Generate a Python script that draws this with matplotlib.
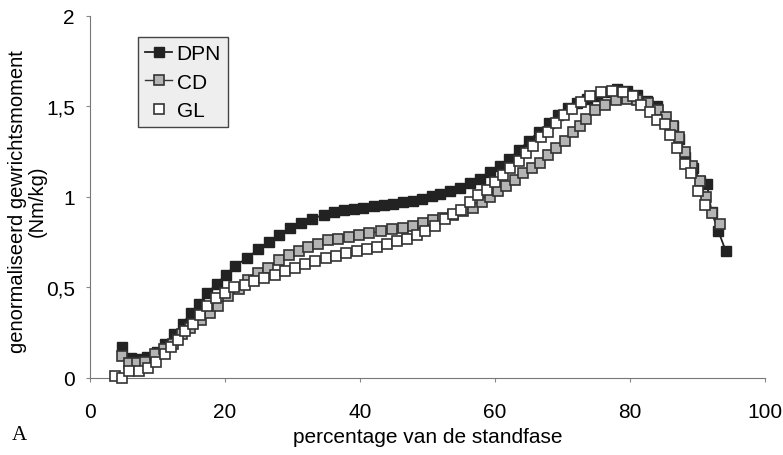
import matplotlib
matplotlib.use("Agg")
import matplotlib.pyplot as plt

plt.rcParams['font.family'] = ['Liberation Sans', 'DejaVu Sans']

# DPN (filled squares)
dpn_x = [4.7, 6.1, 7.3, 8.4, 9.9, 11.1, 12.5, 13.7, 15.0, 16.2, 17.4, 18.8, 20.1, 21.5,
         23.2, 24.9, 26.5, 28.0, 29.6, 31.2, 32.9, 34.6, 36.2, 37.6, 39.1, 40.5, 42.0,
         43.5, 44.9, 46.3, 47.8, 49.2, 50.6, 51.9, 53.3, 54.8, 56.3, 57.8, 59.3, 60.7,
         62.1, 63.6, 65.0, 66.5, 68.0, 69.4, 70.8, 72.2, 73.6, 75.1, 76.6, 78.1, 79.6,
         81.0, 82.5, 84.0, 85.2, 86.4, 87.2, 88.1, 89.4, 90.4, 91.4, 92.1, 93.1, 94.2]
dpn_y = [0.17, 0.11, 0.105, 0.115, 0.146, 0.19, 0.24, 0.30, 0.36, 0.41, 0.47, 0.52, 0.57, 0.62,
         0.66, 0.71, 0.75, 0.79, 0.83, 0.855, 0.88, 0.90, 0.915, 0.926, 0.933, 0.94, 0.95,
         0.955, 0.963, 0.97, 0.98, 0.99, 1.005, 1.017, 1.035, 1.05, 1.075, 1.10, 1.14, 1.17,
         1.21, 1.26, 1.31, 1.36, 1.41, 1.45, 1.49, 1.52, 1.54, 1.56, 1.58, 1.595, 1.585,
         1.565, 1.53, 1.50, 1.43, 1.39, 1.32, 1.22, 1.16, 1.09, 1.07, 0.915, 0.81, 0.70]

# CD (grey squares)
cd_x = [4.7, 5.7, 6.9, 8.1, 9.6, 11.0, 12.3, 13.6, 14.8, 16.4, 17.8, 19.0, 20.5, 22.0,
        23.4, 24.9, 26.4, 28.0, 29.5, 31.0, 32.3, 33.8, 35.3, 36.8, 38.3, 39.9, 41.4,
        43.1, 44.7, 46.3, 47.8, 49.3, 50.8, 52.3, 53.8, 55.3, 56.8, 58.1, 59.3, 60.5,
        61.7, 63.0, 64.2, 65.5, 66.7, 67.9, 69.1, 70.3, 71.6, 72.6, 73.5, 74.8, 76.3,
        77.9, 79.5, 81.1, 82.7, 84.2, 85.3, 86.3, 87.3, 88.1, 89.2, 90.3, 91.2, 92.1, 93.3]
cd_y = [0.12, 0.08, 0.08, 0.09, 0.13, 0.16, 0.19, 0.24, 0.276, 0.32, 0.36, 0.40, 0.45, 0.49,
        0.54, 0.58, 0.61, 0.65, 0.68, 0.70, 0.725, 0.74, 0.76, 0.77, 0.78, 0.79, 0.80,
        0.81, 0.82, 0.83, 0.84, 0.855, 0.87, 0.885, 0.90, 0.92, 0.94, 0.97, 1.00, 1.03,
        1.06, 1.095, 1.13, 1.16, 1.19, 1.23, 1.27, 1.31, 1.36, 1.39, 1.43, 1.48, 1.51,
        1.535, 1.54, 1.535, 1.52, 1.48, 1.44, 1.39, 1.33, 1.25, 1.17, 1.09, 1.00, 0.91, 0.85]

# GL (open squares)
gl_x = [3.7, 4.7, 5.8, 7.3, 8.6, 9.8, 11.1, 12.0, 13.0, 14.1, 15.2, 16.3, 17.4, 18.6,
        20.0, 21.4, 22.9, 24.3, 25.8, 27.4, 28.9, 30.4, 31.9, 33.3, 34.9, 36.4, 37.9,
        39.5, 41.0, 42.5, 44.0, 45.5, 46.9, 48.4, 49.7, 51.1, 52.6, 53.8, 55.0, 56.3,
        57.5, 58.8, 60.0, 61.2, 62.2, 63.5, 64.6, 65.7, 66.8, 67.9, 69.0, 70.2, 71.4,
        72.7, 74.0, 75.7, 77.3, 78.9, 80.5, 81.7, 83.0, 84.0, 85.2, 86.0, 87.0, 88.1,
        89.1, 90.1, 91.1]
gl_y = [0.01, 0.0, 0.04, 0.04, 0.055, 0.09, 0.13, 0.17, 0.21, 0.26, 0.30, 0.35, 0.40, 0.44,
        0.47, 0.50, 0.515, 0.535, 0.55, 0.57, 0.59, 0.61, 0.63, 0.645, 0.66, 0.675, 0.69,
        0.70, 0.71, 0.725, 0.74, 0.755, 0.77, 0.79, 0.81, 0.84, 0.88, 0.905, 0.93, 0.97,
        1.01, 1.04, 1.08, 1.12, 1.16, 1.20, 1.24, 1.28, 1.33, 1.36, 1.41, 1.45, 1.485,
        1.525, 1.555, 1.58, 1.585, 1.58, 1.555, 1.51, 1.47, 1.425, 1.40, 1.34, 1.27, 1.18,
        1.13, 1.03, 0.955]

fig = plt.figure(figsize=(7.83, 4.56), dpi=100)
ax = fig.add_axes([0.115, 0.169, 0.862, 0.794])

ms = 7
ax.plot(dpn_x, dpn_y, color='#222222', lw=1.3, marker='s', ms=ms,
        mfc='#222222', mec='#222222', mew=1.0, label='DPN', clip_on=False, zorder=3)
ax.plot(cd_x, cd_y, color='#333333', lw=1.0, marker='s', ms=ms,
        mfc='#b4b4b4', mec='#333333', mew=1.2, label='CD', clip_on=False, zorder=4)
ax.plot(gl_x, gl_y, ls='none', marker='s', ms=ms,
        mfc='white', mec='#333333', mew=1.2, label='GL', clip_on=False, zorder=5)

ax.set_xlim(0, 100)
ax.set_ylim(0, 2)
ax.set_xticks([0, 20, 40, 60, 80, 100])
ax.set_yticks([0, 0.5, 1, 1.5, 2])
ax.set_yticklabels(['0', '0,5', '1', '1,5', '2'])
ax.tick_params(labelsize=15, length=3, color='#888888')
ax.tick_params(axis='y', pad=8)
ax.tick_params(axis='x', pad=14)
for s in ['top', 'right']:
    ax.spines[s].set_visible(False)
for s in ['left', 'bottom']:
    ax.spines[s].set_color('#777777')

ax.set_xlabel('percentage van de standfase', fontsize=15, labelpad=5)
ax.set_ylabel('genormaliseerd gewrichtsmoment\n(Nm/kg)', fontsize=14.5,
              linespacing=1.0, va='center', ha='center')
ax.yaxis.set_label_coords(-0.093, 0.49)

leg = ax.legend(loc='upper left', bbox_to_anchor=(0.071, 0.942), borderaxespad=0,
                fontsize=15, fancybox=False, framealpha=1, handlelength=1.3,
                handletextpad=0.2, labelspacing=0.45, borderpad=0.35)
leg.get_frame().set_facecolor('#eeeeee')
leg.get_frame().set_edgecolor('#444444')
leg.get_frame().set_linewidth(1.0)

fig.text(0.015, 0.035, 'A', fontsize=15, family='Liberation Serif')

fig.savefig('out.png', dpi=100)
